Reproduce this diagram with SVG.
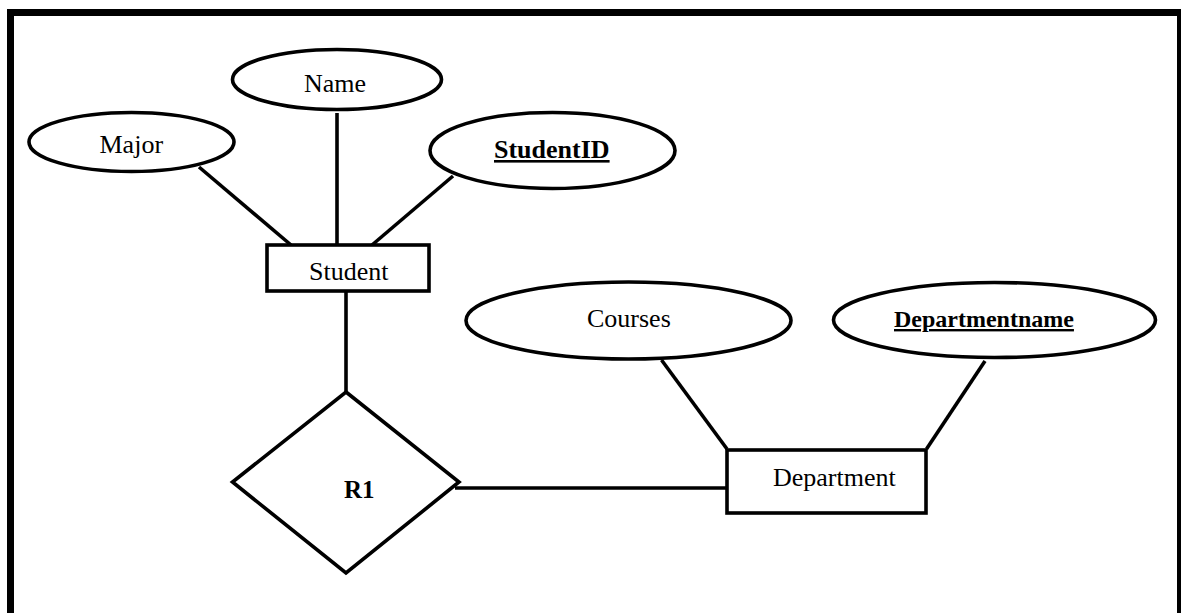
<svg xmlns="http://www.w3.org/2000/svg" width="1181" height="613" viewBox="0 0 1181 613">
  <style>
    .shape { fill: #ffffff; stroke: #000000; stroke-width: 3.6; }
    .link { stroke: #000000; stroke-width: 3.6; fill: none; }
    .lbl { font-family: "Liberation Serif", "Times New Roman", serif; font-size: 26px; fill: #000000; }
    .key { font-weight: bold; text-decoration: underline; }
    .bold { font-weight: bold; }
  </style>

  <rect x="0" y="0" width="1181" height="613" fill="#ffffff"/>
  <!-- outer frame -->
  <rect x="10.5" y="12.5" width="1170" height="640" fill="none" stroke="#000000" stroke-width="7"/>

  <!-- connectors -->
  <g id="connectors">
    <line class="link" x1="199" y1="167" x2="291" y2="245"/>
    <line class="link" x1="337" y1="113" x2="337" y2="245"/>
    <line class="link" x1="453" y1="176" x2="372" y2="245"/>
    <line class="link" x1="346" y1="292" x2="346" y2="396"/>
    <line class="link" x1="455" y1="488" x2="727" y2="488"/>
    <line class="link" x1="661.5" y1="360" x2="727" y2="449"/>
    <line class="link" x1="985" y1="361" x2="926.5" y2="449"/>
  </g>

  <g id="attr-major">
    <ellipse class="shape" cx="131.5" cy="142" rx="102.5" ry="29.5"/>
    <text class="lbl" x="99.5" y="153">Major</text>
  </g>

  <g id="attr-name">
    <ellipse class="shape" cx="337" cy="79.5" rx="104.5" ry="30"/>
    <text class="lbl" x="304" y="91.5">Name</text>
  </g>

  <g id="attr-studentid">
    <ellipse class="shape" cx="552.5" cy="150.5" rx="122.5" ry="38"/>
    <text class="lbl key" x="494" y="158">StudentID</text>
  </g>

  <g id="entity-student">
    <rect class="shape" x="267" y="245" width="162" height="46"/>
    <text class="lbl" x="309" y="280">Student</text>
  </g>

  <g id="attr-courses">
    <ellipse class="shape" cx="628.5" cy="320.5" rx="162.5" ry="38.5"/>
    <text class="lbl" x="587" y="327">Courses</text>
  </g>

  <g id="attr-departmentname">
    <ellipse class="shape" cx="994.5" cy="320" rx="161" ry="37.5"/>
    <text class="lbl key" x="894" y="327" style="font-size:24px">Departmentname</text>
  </g>

  <g id="rel-r1">
    <polygon class="shape" points="346,392 459,482 346,573 232.5,482"/>
    <text class="lbl bold" x="344" y="498" style="font-size:25px">R1</text>
  </g>

  <g id="entity-department">
    <rect class="shape" x="727" y="450" width="199" height="63"/>
    <text class="lbl" x="773" y="486">Department</text>
  </g>
</svg>
